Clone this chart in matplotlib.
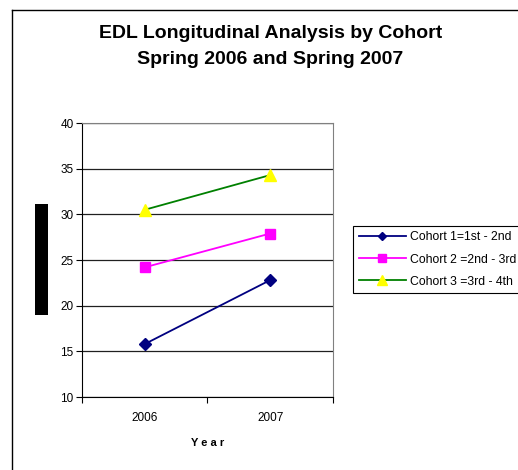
import matplotlib
matplotlib.use('Agg')
import matplotlib.pyplot as plt
from matplotlib.lines import Line2D
from matplotlib.patches import Rectangle

plt.rcParams['font.family'] = ['Liberation Sans', 'DejaVu Sans']

years = ['2006', '2007']
cohort1 = [15.8, 22.8]
cohort2 = [24.2, 27.9]
cohort3 = [30.5, 34.3]
labels = ['Cohort 1=1st - 2nd', 'Cohort 2 =2nd - 3rd', 'Cohort 3 =3rd - 4th']

W, H = 518, 470
fig = plt.figure(figsize=(W/100, H/100), dpi=100)
ax = fig.add_axes([82/W, 1-397/H, 251/W, 274/H])

xs = [0.5, 1.5]
ax.plot(xs, cohort1, color='#000080', marker='D', markersize=6, lw=1.3,
        markerfacecolor='#000080', markeredgecolor='#000080', label=labels[0])
ax.plot(xs, cohort2, color='#FF00FF', marker='s', markersize=7, lw=1.3,
        markerfacecolor='#FF00FF', markeredgecolor='#FF00FF', label=labels[1])
ax.plot(xs, cohort3, color='#008000', marker='^', markersize=9, lw=1.3,
        markerfacecolor='#FFFF00', markeredgecolor='#FFFF00', label=labels[2])

ax.set_xlim(0, 2)
ax.set_ylim(10, 40)
ax.set_yticks(range(10, 41, 5))
ax.yaxis.grid(True, color='#202020', lw=0.9)
ax.set_axisbelow(True)

# category boundaries get the ticks, years sit in between
ax.set_xticks([0, 1, 2])
ax.set_xticklabels(['', '', ''])
ax.set_xticks(xs, minor=True)
ax.set_xticklabels(years, minor=True)
ax.tick_params(axis='x', which='minor', length=0, pad=11, labelsize=8.5)
ax.tick_params(axis='x', which='major', length=4, color='black', direction='out')
ax.tick_params(axis='y', length=4, direction='out', labelsize=8.5, pad=2)

for s in ['top', 'right']:
    ax.spines[s].set_color('#808080')
for s in ['left', 'bottom']:
    ax.spines[s].set_color('black')

ax.set_xlabel('Y e a r', fontsize=8, fontweight='bold', labelpad=10)

fig.text(271/W, 1-33/H, 'EDL Longitudinal Analysis by Cohort', ha='center', va='center',
         fontsize=14, fontweight='bold')
fig.text(270/W, 1-60/H, 'Spring 2006 and Spring 2007', ha='center', va='center',
         fontsize=14, fontweight='bold')

leg = fig.legend(loc='upper left', bbox_to_anchor=(353/W, 1-226/H), fontsize=8.8,
                 frameon=True, fancybox=False, edgecolor='black', framealpha=1,
                 handlelength=3.9, handletextpad=0.3, borderpad=0.45, labelspacing=0.82,
                 borderaxespad=0, markerscale=0.75)
leg.get_frame().set_linewidth(0.8)

# redacted y label
fig.patches.append(Rectangle((35/W, 1-315/H), 13/W, 111/H, transform=fig.transFigure,
                             facecolor='black', edgecolor='none'))

# chart area border
fig.add_artist(Line2D([11.5/W, 11.5/W], [0, 1-9.5/H], color='black', lw=1, transform=fig.transFigure))
fig.add_artist(Line2D([11.5/W, 1], [1-9.5/H, 1-9.5/H], color='black', lw=1, transform=fig.transFigure))

fig.savefig('out.png', dpi=100)
